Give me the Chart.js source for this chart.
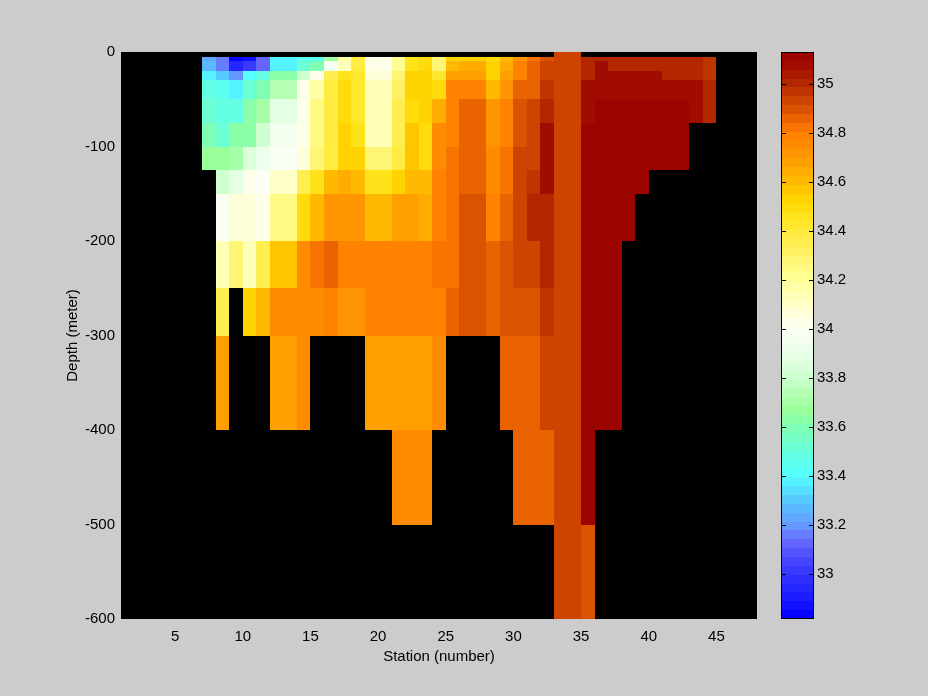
<!DOCTYPE html>
<html>
<head>
<meta charset="utf-8">
<script src="https://cdn.jsdelivr.net/npm/chart.js@4.4.1/dist/chart.umd.min.js"></script>
<style>
  html, body { margin: 0; padding: 0; background: #cccccc; }
  #wrap { position: relative; width: 928px; height: 696px; }
  #wrap canvas { position: absolute; left: 0; top: 0; }
</style>
</head>
<body>
<div id="wrap">
  <canvas id="main" width="928" height="696"></canvas>
  <canvas id="bar" width="928" height="696"></canvas>
</div>
<script>
// cell edges (pcolor grid)
const stationEdges = [7, 8, 9, 10, 11, 12, 14, 15, 16, 17, 18, 19, 21, 22, 23, 24, 25, 26, 28, 29, 30, 31, 32, 33, 35, 36, 37, 38, 39, 40, 41, 42, 43, 44, 45];
const depthEdges = [0, 5, 10, 20, 30, 50, 75, 100, 125, 150, 200, 250, 300, 400, 500, 600];

const _ = null; // no data
// salinity per depth layer, one value per station cell
const sal0   = [_, _, _, _, _, _, _, _, _, _, _, _, _, _, _, _, _, _, _, _, _, _, _, 34.93, _, _, _, _, _, _, _, _, _, _];
const sal5   = [33.24, 33.15, 32.82, 32.86, 33.12, 33.36, 33.45, 33.45, 33.72, 34.16, 34.4, 34.02, 34.2, 34.46, 34.5, 34.28, 34.53, 34.53, 34.49, 34.6, 34.71, 34.81, 34.9, 34.93, 35.02, 35.02, 35.02, 35.02, 35.02, 35.02, 35.02, 35.02, 35.02, 34.98];
const sal10  = [33.27, 33.17, 32.93, 33.0, 33.12, 33.36, 33.54, 33.58, 33.94, 34.12, 34.4, 34.02, 34.2, 34.46, 34.5, 34.28, 34.6, 34.64, 34.55, 34.64, 34.77, 34.85, 34.93, 34.93, 35.02, 35.07, 35.02, 35.02, 35.02, 35.02, 35.02, 35.02, 35.02, 34.98];
const sal20  = [33.36, 33.31, 33.2, 33.4, 33.5, 33.63, 33.8, 34.04, 34.34, 34.46, 34.44, 34.06, 34.29, 34.52, 34.53, 34.44, 34.68, 34.68, 34.55, 34.68, 34.79, 34.85, 34.93, 34.93, 35.02, 35.07, 35.07, 35.07, 35.07, 35.07, 35.02, 35.02, 35.02, 34.98];
const sal30  = [33.5, 33.45, 33.36, 33.54, 33.58, 33.74, 34.02, 34.16, 34.4, 34.49, 34.44, 34.14, 34.32, 34.52, 34.53, 34.49, 34.77, 34.77, 34.62, 34.71, 34.85, 34.86, 34.98, 34.93, 35.07, 35.07, 35.07, 35.07, 35.07, 35.07, 35.07, 35.07, 35.07, 35.02];
const sal50  = [33.54, 33.5, 33.5, 33.63, 33.72, 33.88, 34.02, 34.24, 34.4, 34.51, 34.44, 34.14, 34.36, 34.49, 34.55, 34.64, 34.79, 34.85, 34.71, 34.79, 34.89, 34.93, 35.02, 34.93, 35.07, 35.12, 35.12, 35.12, 35.12, 35.12, 35.12, 35.12, 35.07, 35.02];
const sal75  = [33.58, 33.54, 33.63, 33.64, 33.8, 33.94, 34.03, 34.26, 34.4, 34.55, 34.46, 34.14, 34.36, 34.56, 34.49, 34.76, 34.79, 34.86, 34.71, 34.79, 34.89, 34.93, 35.07, 34.93, 35.12, 35.12, 35.12, 35.12, 35.12, 35.12, 35.12, 35.12, _, _];
const sal100 = [33.67, 33.67, 33.72, 33.86, 33.92, 33.98, 34.08, 34.29, 34.4, 34.55, 34.55, 34.29, 34.4, 34.56, 34.49, 34.76, 34.84, 34.86, 34.76, 34.84, 34.93, 34.93, 35.07, 34.93, 35.12, 35.12, 35.12, 35.12, 35.12, 35.12, 35.12, 35.12, _, _];
const sal125 = [_, 33.8, 33.88, 34.02, 33.98, 34.09, 34.36, 34.47, 34.6, 34.64, 34.62, 34.45, 34.55, 34.62, 34.6, 34.79, 34.84, 34.86, 34.76, 34.84, 34.93, 34.98, 35.07, 34.93, 35.12, 35.12, 35.12, 35.12, 35.12, _, _, _, _, _];
const sal150 = [_, 34.0, 34.06, 34.06, 34.03, 34.23, 34.48, 34.62, 34.73, 34.73, 34.71, 34.6, 34.66, 34.68, 34.64, 34.77, 34.84, 34.91, 34.79, 34.87, 34.93, 35.0, 35.02, 34.93, 35.12, 35.12, 35.12, 35.12, _, _, _, _, _, _];
const sal200 = [_, 34.12, 34.28, 34.14, 34.34, 34.56, 34.76, 34.83, 34.87, 34.79, 34.79, 34.77, 34.79, 34.79, 34.79, 34.84, 34.84, 34.91, 34.87, 34.89, 34.93, 34.93, 35.02, 34.93, 35.12, 35.12, 35.12, _, _, _, _, _, _, _];
const sal250 = [_, 34.36, _, 34.53, 34.6, 34.76, 34.76, 34.76, 34.79, 34.71, 34.71, 34.77, 34.79, 34.79, 34.79, 34.79, 34.87, 34.91, 34.87, 34.89, 34.89, 34.89, 34.98, 34.93, 35.12, 35.12, 35.12, _, _, _, _, _, _, _];
const sal300 = [_, 34.66, _, _, _, 34.66, 34.76, _, _, _, _, 34.66, 34.66, 34.68, 34.68, 34.76, _, _, _, 34.86, 34.86, 34.86, 34.93, 34.93, 35.12, 35.12, 35.12, _, _, _, _, _, _, _];
const sal400 = [_, _, _, _, _, _, _, _, _, _, _, _, 34.76, 34.76, 34.76, _, _, _, _, _, 34.86, 34.86, 34.86, 34.93, 35.12, _, _, _, _, _, _, _, _, _];
const sal500 = [_, _, _, _, _, _, _, _, _, _, _, _, _, _, _, _, _, _, _, _, _, _, _, 34.93, 34.89, _, _, _, _, _, _, _, _, _];
const salinity = [sal0, sal5, sal10, sal20, sal30, sal50, sal75, sal100, sal125, sal150, sal200, sal250, sal300, sal400, sal500];

const xTicks = [5, 10, 15, 20, 25, 30, 35, 40, 45];
const yTicks = [-600, -500, -400, -300, -200, -100, 0];
const cbTicks = [33, 33.2, 33.4, 33.6, 33.8, 34, 34.2, 34.4, 34.6, 34.8, 35];
const cMin = 32.818, cMax = 35.129;

const FONT = "'Liberation Sans Narrow', 'Liberation Sans', Arial, sans-serif";
const FS = 15;

// colormap anchors, quantised to 64 levels like MATLAB
const cmapAnchors = [
  [32.82, '#0000ff'], [32.9, '#1a1aff'], [33.0, '#3333ff'], [33.06, '#4848ff'],
  [33.13, '#6666ff'], [33.2, '#6699ff'], [33.31, '#55ccff'], [33.4, '#55ffff'],
  [33.5, '#66ffdd'], [33.6, '#80ffb3'], [33.67, '#99ff99'], [33.8, '#ccffcc'],
  [33.9, '#eaffea'], [34.0, '#fcfff5'], [34.09, '#ffffcc'], [34.2, '#ffff99'],
  [34.31, '#fff266'], [34.4, '#ffea3c'], [34.46, '#ffe31a'], [34.53, '#ffd400'],
  [34.6, '#ffbb00'], [34.66, '#ffa500'], [34.73, '#ff9000'], [34.8, '#ff7f00'],
  [34.86, '#e86200'], [34.93, '#cc4400'], [35.0, '#b42800'], [35.04, '#aa1a00'],
  [35.08, '#a00a00'], [35.13, '#990000']
];

function hexRgb(h) {
  return [parseInt(h.slice(1, 3), 16), parseInt(h.slice(3, 5), 16), parseInt(h.slice(5, 7), 16)];
}

function interpColor(v) {
  if (v <= cmapAnchors[0][0]) return hexRgb(cmapAnchors[0][1]);
  for (let i = 1; i < cmapAnchors.length; i++) {
    const [v1, c1] = cmapAnchors[i];
    if (v <= v1) {
      const [v0, c0] = cmapAnchors[i - 1];
      const t = (v - v0) / (v1 - v0);
      const a = hexRgb(c0), b = hexRgb(c1);
      return a.map((x, k) => Math.round(x + (b[k] - x) * t));
    }
  }
  return hexRgb(cmapAnchors[cmapAnchors.length - 1][1]);
}

const NLEV = 64;
const levels = [];
for (let i = 0; i < NLEV; i++) {
  const c = interpColor(cMin + (i + 0.5) * (cMax - cMin) / NLEV);
  levels.push(`rgb(${c[0]},${c[1]},${c[2]})`);
}

function colorFor(v) {
  let i = Math.floor((v - cMin) / (cMax - cMin) * NLEV);
  i = Math.max(0, Math.min(NLEV - 1, i));
  return levels[i];
}

const heatmapPlugin = {
  id: 'heatmap',
  beforeDatasetsDraw(chart) {
    const { ctx, chartArea: a, scales: { x, y } } = chart;
    ctx.save();
    ctx.fillStyle = '#000';
    ctx.fillRect(a.left, a.top, a.right - a.left, a.bottom - a.top);
    salinity.forEach((row, r) => {
      const y0 = y.getPixelForValue(-depthEdges[r]);
      const y1 = y.getPixelForValue(-depthEdges[r + 1]);
      row.forEach((v, c) => {
        if (v === null) return;
        const x0 = x.getPixelForValue(stationEdges[c]);
        const x1 = x.getPixelForValue(stationEdges[c + 1]);
        ctx.fillStyle = colorFor(v);
        ctx.fillRect(Math.round(x0), Math.round(y0), Math.round(x1) - Math.round(x0), Math.round(y1) - Math.round(y0));
      });
    });
    ctx.restore();
  }
};

const colorbarPlugin = {
  id: 'colorbar',
  beforeDatasetsDraw(chart) {
    const { ctx, chartArea: a, scales: { y } } = chart;
    ctx.save();
    for (let i = 0; i < NLEV; i++) {
      const v0 = cMin + i * (cMax - cMin) / NLEV;
      const v1 = cMin + (i + 1) * (cMax - cMin) / NLEV;
      const p0 = Math.round(y.getPixelForValue(v0));
      const p1 = Math.round(y.getPixelForValue(v1));
      ctx.fillStyle = levels[i];
      ctx.fillRect(a.left, p1, a.right - a.left, p0 - p1);
    }
    ctx.strokeStyle = '#000';
    ctx.lineWidth = 1;
    ctx.beginPath();
    cbTicks.forEach(v => {
      const p = Math.round(y.getPixelForValue(v)) + 0.5;
      ctx.moveTo(a.left, p); ctx.lineTo(a.left + 5, p);
      ctx.moveTo(a.right - 5, p); ctx.lineTo(a.right, p);
    });
    ctx.stroke();
    ctx.strokeRect(a.left + 0.5, a.top + 0.5, a.right - a.left - 1, a.bottom - a.top - 1);
    ctx.restore();
  }
};

const tickFont = { family: FONT, size: FS };

new Chart(document.getElementById('main'), {
  type: 'scatter',
  data: { datasets: [{ data: [] }] },
  options: {
    responsive: false,
    animation: false,
    devicePixelRatio: 1,
    layout: { padding: { left: 0, top: 52, right: 171, bottom: 0 } },
    plugins: { legend: { display: false }, tooltip: { enabled: false } },
    scales: {
      x: {
        type: 'linear', min: 1, max: 48,
        grid: { display: false, drawTicks: false },
        border: { display: false },
        afterBuildTicks: (s) => { s.ticks = xTicks.map(v => ({ value: v })); },
        afterFit: (s) => { s.height = 77; },
        ticks: { color: '#000', font: tickFont, padding: 9, maxRotation: 0 },
        title: { display: true, text: 'Station (number)', color: '#000', font: tickFont, padding: { top: 0, bottom: 30 } }
      },
      y: {
        type: 'linear', min: -600, max: 0,
        grid: { display: false, drawTicks: false },
        border: { display: false },
        afterBuildTicks: (s) => { s.ticks = yTicks.map(v => ({ value: v })); },
        afterFit: (s) => { s.width = 121; },
        ticks: { color: '#000', font: tickFont, padding: 6 },
        title: { display: true, text: 'Depth (meter)', color: '#000', font: tickFont, padding: { top: 64, bottom: 0 } }
      }
    }
  },
  plugins: [heatmapPlugin]
});

new Chart(document.getElementById('bar'), {
  type: 'scatter',
  data: { datasets: [{ data: [] }] },
  options: {
    responsive: false,
    animation: false,
    devicePixelRatio: 1,
    layout: { padding: { left: 781, top: 52, right: 0, bottom: 77 } },
    plugins: { legend: { display: false }, tooltip: { enabled: false } },
    scales: {
      x: { display: false, min: 0, max: 1 },
      y: {
        type: 'linear', position: 'right', min: cMin, max: cMax,
        grid: { display: false, drawTicks: false },
        border: { display: false },
        afterBuildTicks: (s) => { s.ticks = cbTicks.map(v => ({ value: v })); },
        afterFit: (s) => { s.width = 114; },
        ticks: { color: '#000', font: tickFont, padding: 3, callback: (v) => String(Math.round(v * 10) / 10) }
      }
    }
  },
  plugins: [colorbarPlugin]
});
</script>
</body>
</html>
